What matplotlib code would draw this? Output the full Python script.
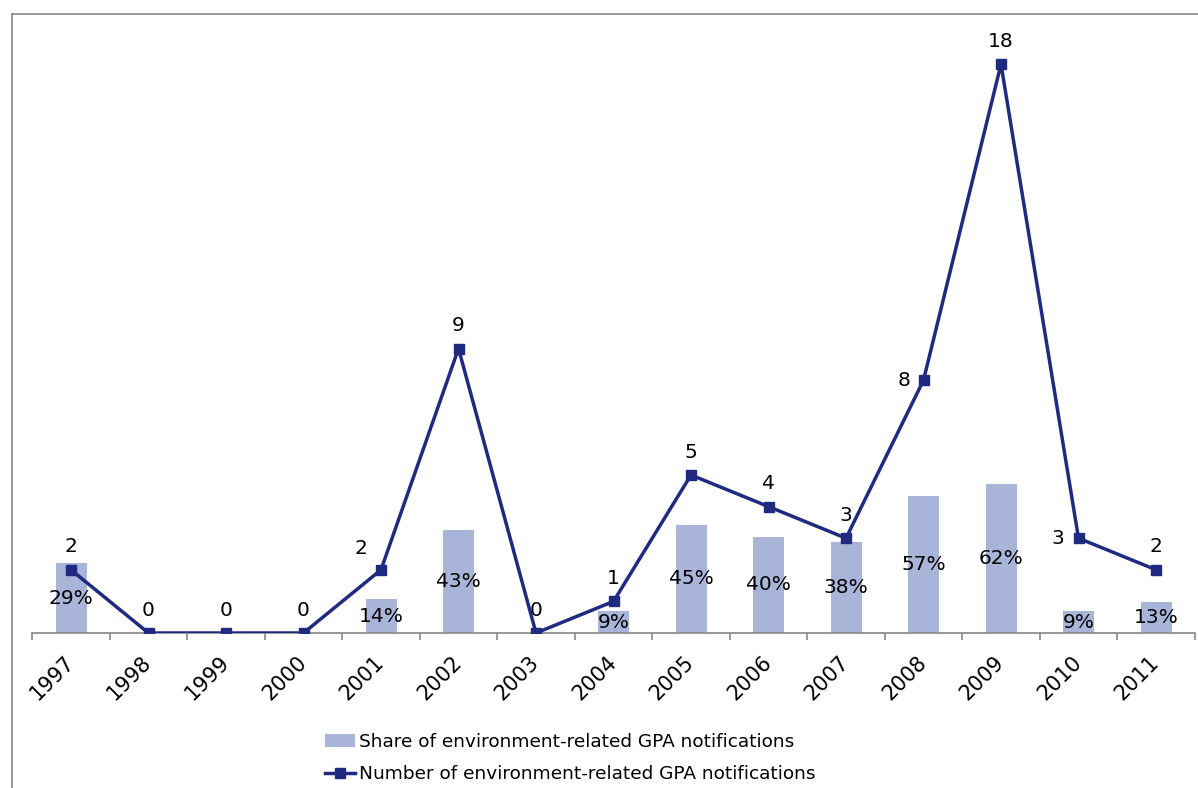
import numpy as np
import matplotlib
matplotlib.use("Agg")
from matplotlib import pyplot as plt
from matplotlib.lines import Line2D
from matplotlib.patches import Patch

# Data
years = ["1997", "1998", "1999", "2000", "2001", "2002", "2003", "2004",
         "2005", "2006", "2007", "2008", "2009", "2010", "2011"]
counts = [2, 0, 0, 0, 2, 9, 0, 1, 5, 4, 3, 8, 18, 3, 2]
shares = [29, None, None, None, 14, 43, None, 9, 45, 40, 38, 57, 62, 9, 13]

bar_color = "#A9B4D9"
line_color = "#1F2A80"

W, H = 1198, 788
fig = plt.figure(figsize=(W / 100, H / 100), dpi=100)

# plot area in pixel coordinates
left_px, right_px, top_px, bottom_px = 32.25, 1194.75, 14, 633
ax2 = fig.add_axes([left_px / W, 1 - bottom_px / H,
                    (right_px - left_px) / W, (bottom_px - top_px) / H])
ax = ax2.twinx()

x = np.arange(len(years))

# bars (share, %) on their own hidden scale
share_vals = [s if s is not None else 0 for s in shares]
ax2.bar(x, share_vals, width=0.4, color=bar_color, zorder=1)
ax2.set_ylim(0, (bottom_px - top_px) / 2.4)
for xi, s in zip(x, shares):
    if s is not None:
        ax2.text(xi, s / 2, f"{s}%", ha="center", va="center",
                 fontsize=14.5, color="#000000")

# line (number of notifications)
ax.plot(x, counts, color=line_color, lw=2.5, marker="s", markersize=6.5,
        zorder=3)
ax.set_ylim(0, (bottom_px - top_px) / 31.6)

# label offsets in pixels (dx, dy); default is above the point
label_offsets = {4: (-20, 21), 11: (-19, 0), 13: (-21, 0)}
for i, (xi, c) in enumerate(zip(x, counts)):
    dx, dy = label_offsets.get(i, (0, 23))
    ax.annotate(str(c), (xi, c), xytext=(dx * 0.72, dy * 0.72),
                textcoords="offset points", ha="center", va="center",
                fontsize=14.5, color="#000000")

ax.set_xlim(-0.5, len(years) - 0.5)
for a in (ax, ax2):
    for side in ("top", "right", "left"):
        a.spines[side].set_visible(False)
    a.set_yticks([])
ax.spines["bottom"].set_visible(False)
ax2.spines["bottom"].set_color("#888888")
ax2.spines["bottom"].set_linewidth(1.2)

# ticks at category boundaries, labels at centres
ax2.set_xticks(np.arange(len(years) + 1) - 0.5)
ax2.set_xticklabels([])
ax2.tick_params(axis="x", which="major", length=5, color="#888888", width=1.2)
ax2.set_xticks(x, years, minor=True)
ax2.tick_params(axis="x", which="minor", length=0, pad=19, labelsize=15)
for lbl in ax2.get_xticklabels(minor=True):
    lbl.set_rotation(45)
    lbl.set_ha("right")
    lbl.set_va("center")
    lbl.set_rotation_mode("anchor")

# chart area border (left and top edges visible)
fig.add_artist(Line2D([12 / W, 12 / W], [0, 1 - 14 / H], transform=fig.transFigure,
                      color="#888888", lw=1.2))
fig.add_artist(Line2D([12 / W, 1], [1 - 14 / H, 1 - 14 / H], transform=fig.transFigure,
                      color="#888888", lw=1.2))

handles = [Patch(facecolor=bar_color, edgecolor="none"),
           Line2D([], [], color=line_color, lw=2.5, marker="s", markersize=6.5)]
labels = ["Share of environment-related GPA notifications",
          "Number of environment-related GPA notifications"]
fig.legend(handles, labels, loc="upper left",
           bbox_to_anchor=(318 / W, 1 - 726 / H), frameon=False,
           fontsize=13.3, handlelength=1.6, handletextpad=0.2,
           labelspacing=0.75, borderaxespad=0)

fig.savefig("out.png", dpi=100)
